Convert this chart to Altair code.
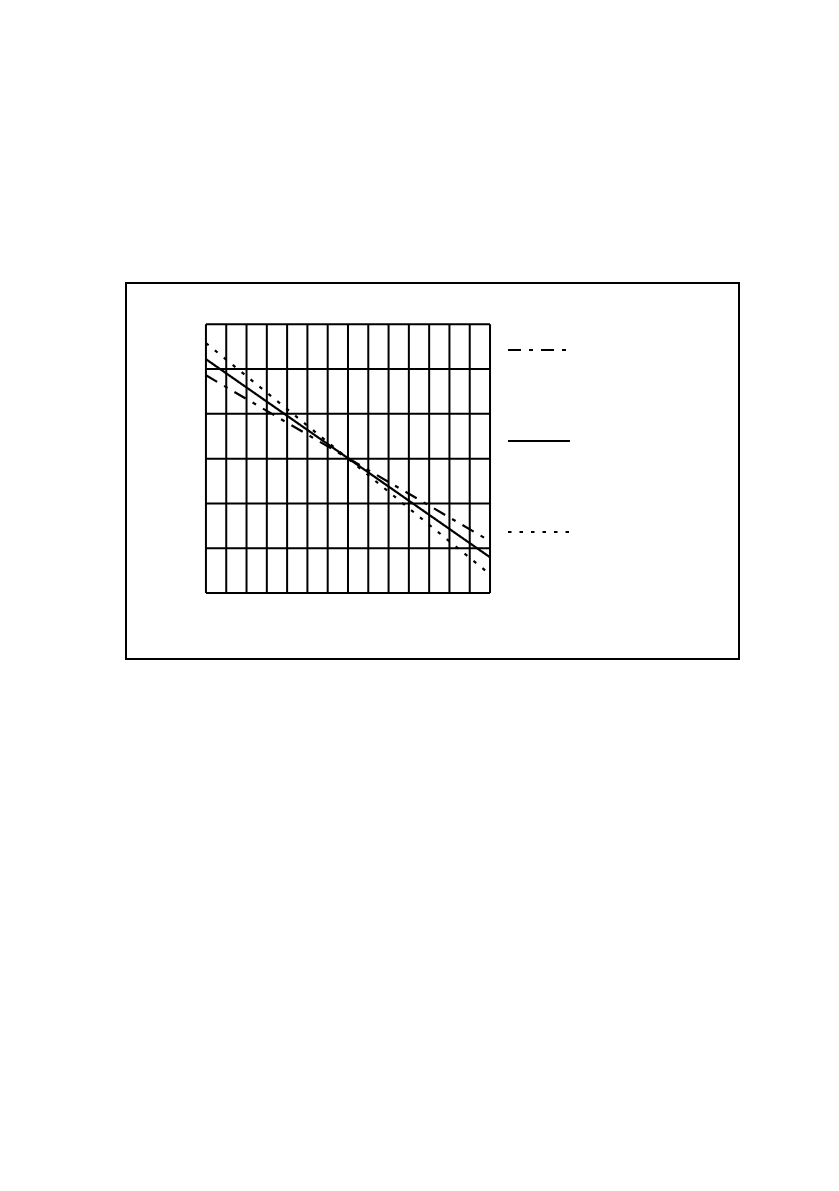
import altair as alt
import pandas as pd

# grid positions (data units)
grid_x = list(range(15))   # 14 columns
grid_y = list(range(7))    # 6 rows

# three straight series (endpoints)
series = ["dashdot", "solid", "dotted"]
x_start = [0, 0, 0]
x_end = [14, 14, 14]
y_start = [4.86, 5.22, 5.58]
y_end = [1.16, 0.80, 0.42]

lines_df = pd.DataFrame(
    [{"series": s, "x": xs, "y": ys} for s, xs, ys in zip(series, x_start, y_start)]
    + [{"series": s, "x": xe, "y": ye} for s, xe, ye in zip(series, x_end, y_end)]
)
vx_df = pd.DataFrame({"gx": grid_x})
hy_df = pd.DataFrame({"gy": grid_y})

xs = alt.Scale(domain=[-3.94, 26.27], nice=False, zero=False)
ys = alt.Scale(domain=[-1.47, 6.92], nice=False, zero=False)

vrules = alt.Chart(vx_df).mark_rule(color="black", strokeWidth=2).encode(
    x=alt.X("gx:Q", scale=xs, axis=None),
    y=alt.datum(0, scale=ys, axis=None),
    y2=alt.datum(6),
)
hrules = alt.Chart(hy_df).mark_rule(color="black", strokeWidth=2).encode(
    y=alt.Y("gy:Q", scale=ys, axis=None),
    x=alt.datum(0, scale=xs, axis=None),
    x2=alt.datum(14),
)

lines = alt.Chart(lines_df).mark_line(color="black", strokeWidth=2.2).encode(
    x=alt.X("x:Q", scale=xs, axis=None),
    y=alt.Y("y:Q", scale=ys, axis=None),
    detail="series:N",
    strokeDash=alt.StrokeDash(
        "series:N",
        scale=alt.Scale(domain=series, range=[[13, 8, 4, 8], [1, 0], [3.5, 8]]),
        legend=alt.Legend(
            title=None,
            orient="none",
            legendX=381,
            legendY=35,
            symbolType="stroke",
            symbolSize=3844,
            symbolStrokeWidth=2,
            symbolStrokeColor="black",
            labelExpr="''",
            rowPadding=54,
        ),
    ),
)

chart = (
    alt.layer(vrules, hrules, lines)
    .properties(
        width=613,
        height=376,
        padding={"left": 118, "top": 275, "right": 5, "bottom": 5},
    )
    .configure_view(stroke="black", strokeWidth=2)
)

chart.save("out.html", embed_options={"renderer": "svg", "actions": False})
